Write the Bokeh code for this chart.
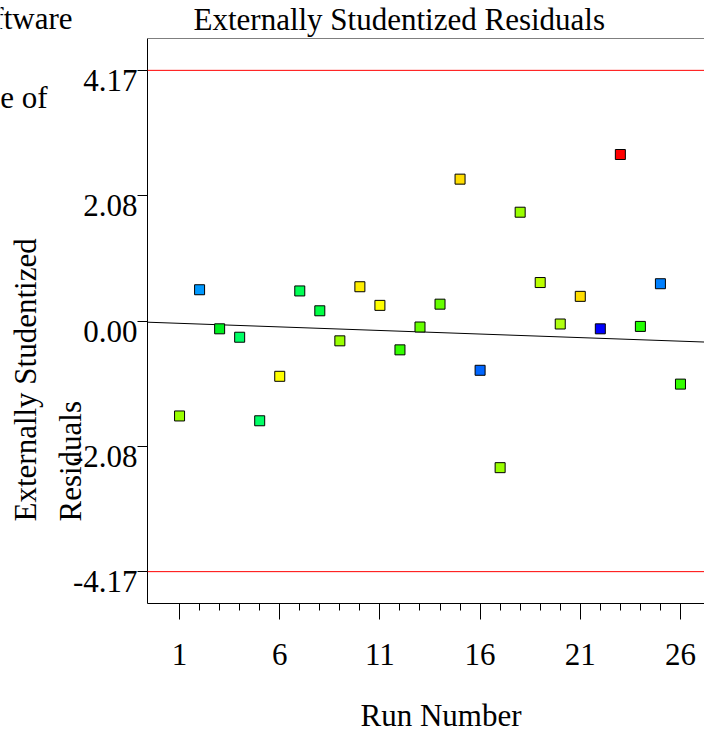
import numpy as np
from bokeh.plotting import figure
from bokeh.layouts import column, row
from bokeh.models import (Range1d, LinearAxis, FixedTicker, Span, Label,
                          ColumnDataSource, NumeralTickFormatter, CustomJSTickFormatter)
from bokeh.embed import file_html
from bokeh.resources import INLINE

# ---------------- data ----------------
runs = list(range(1, 27))
residuals = [-1.58, 0.52, -0.13, -0.27, -1.66, -0.92, 0.50, 0.17, -0.33, 0.57,
             0.26, -0.48, -0.10, 0.28, 2.36, -0.82, -2.44, 1.81, 0.64, -0.05,
             0.41, -0.13, 2.77, -0.09, 0.62, -1.05]
point_colors = ["#99ff00", "#0099ff", "#00f020", "#00ff66", "#00ff66", "#ffff00",
                "#00ff55", "#00ff44", "#99ff00", "#ffee00", "#ffff00", "#33ff00",
                "#66ff00", "#66ff00", "#ffdd00", "#0066ff", "#99ff00", "#99ff00",
                "#bbff00", "#b0ff10", "#ffdd00", "#0000ff", "#ff0000", "#22ff00",
                "#0080ff", "#33ff00"]
limit_upper = 4.17
limit_lower = -4.17
y_ticks = [-4.17, -2.08, 0.0, 2.08, 4.17]
x_major_ticks = [1, 6, 11, 16, 21, 26]
x_minor_ticks = [r for r in range(2, 26) if r not in x_major_ticks]
trend_x = [-0.6, 27.2]
trend_y = [-0.02, -0.35]

title_text = "Externally Studentized Residuals"
x_label = "Run Number"
y_label_lines = ["Externally Studentized", "Residuals"]
side_texts = ["Design-Expert\u00ae Software", "Color points by value of"]

# ---------------- layout ----------------
W, H = 704, 731
FL, FT, FB = 147, 38, 603          # frame left / top / bottom (px)
X0, X1 = -0.6, 27.2
Y0, Y1 = -4.70, 4.70
FONT = "Liberation Serif"
FS = "31px"
MID = 10                            # baseline sits this far below a text's anchor

p = figure(width=W, height=H, x_range=Range1d(X0, X1), y_range=Range1d(Y0, Y1),
           output_backend="svg", toolbar_location=None, title=None,
           min_border_left=FL, min_border_right=0, min_border_top=FT,
           min_border_bottom=H - FB)
p.grid.visible = False
p.outline_line_color = None
p.background_fill_color = "white"
p.border_fill_color = "white"

# x axis
xa = p.xaxis[0]
xa.ticker = FixedTicker(ticks=x_major_ticks, minor_ticks=x_minor_ticks)
xa.axis_line_color = "black"
xa.major_tick_line_color = "black"
xa.minor_tick_line_color = "black"
xa.major_tick_out = 16
xa.major_tick_in = 0
xa.minor_tick_out = 7
xa.minor_tick_in = 0
xa.major_label_text_font = FONT
xa.major_label_text_font_size = FS
xa.major_label_text_color = "black"
xa.major_label_standoff = 24

# y axis (tick marks only)
ya = p.yaxis[0]
ya.ticker = FixedTicker(ticks=y_ticks, minor_ticks=[])
ya.formatter = CustomJSTickFormatter(code="return ''")
ya.axis_line_color = "black"
ya.major_tick_line_color = "black"
ya.major_tick_out = 10
ya.major_tick_in = 0
ya.minor_tick_out = 0
ya.minor_tick_in = 0
ya.major_label_standoff = 0

# y tick labels, hanging just below their tick marks
shift = 10 * (Y1 - Y0) / (FB - FT)
p.extra_y_ranges = {"lbl": Range1d(Y0 + shift, Y1 + shift)}
la = LinearAxis(y_range_name="lbl", ticker=FixedTicker(ticks=y_ticks, minor_ticks=[]),
                formatter=NumeralTickFormatter(format="0.00"))
la.axis_line_color = None
la.major_tick_line_color = None
la.minor_tick_line_color = None
la.major_tick_out = 0
la.major_tick_in = 0
la.major_label_standoff = 0
la.major_label_text_font = FONT
la.major_label_text_font_size = FS
la.major_label_text_color = "black"
p.add_layout(la, "left")

# frame top border and limit lines
p.add_layout(Span(location=Y1, dimension="width", line_color="black", line_width=1))
p.add_layout(Span(location=limit_upper, dimension="width", line_color="red", line_width=1))
p.add_layout(Span(location=limit_lower, dimension="width", line_color="red", line_width=1))

# trend line
p.line(trend_x, trend_y, line_color="black", line_width=1)

# points
src = ColumnDataSource(dict(run=runs, res=residuals, color=point_colors))
p.scatter(x="run", y="res", source=src, marker="square", size=10,
          fill_color="color", line_color="black", line_width=1)

# ---------------- text layer (pixel coordinates, same size, overlaid) ----------------
t = figure(width=W, height=H, x_range=Range1d(0, W), y_range=Range1d(H, 0),
           output_backend="svg", toolbar_location=None, title=None,
           x_axis_type=None, y_axis_type=None,
           min_border_left=0, min_border_right=0, min_border_top=0, min_border_bottom=0)
t.outline_line_color = None
t.background_fill_color = None
t.border_fill_color = None


def add_text(x, y, text, size=FS, align="left", angle=0.0):
    t.add_layout(Label(x=x, y=y, text=text, text_font=FONT, text_font_size=size,
                       text_align=align, text_baseline="alphabetic", angle=angle,
                       text_color="black"))


add_text(193, 29 - MID, title_text)
add_text(360, 725 - MID, x_label)
add_text(35 - MID, 521, y_label_lines[0], angle=np.pi / 2)
add_text(80 - MID, 521, y_label_lines[1], angle=np.pi / 2)
add_text(72, 28 - MID, side_texts[0], align="right")
add_text(47, 107 - MID, side_texts[1], align="right")

text_layer = row(t, margin=(-H, 0, 0, 0))
layout = column(p, text_layer, spacing=0)

open("out.html", "w").write(file_html(layout, INLINE))
